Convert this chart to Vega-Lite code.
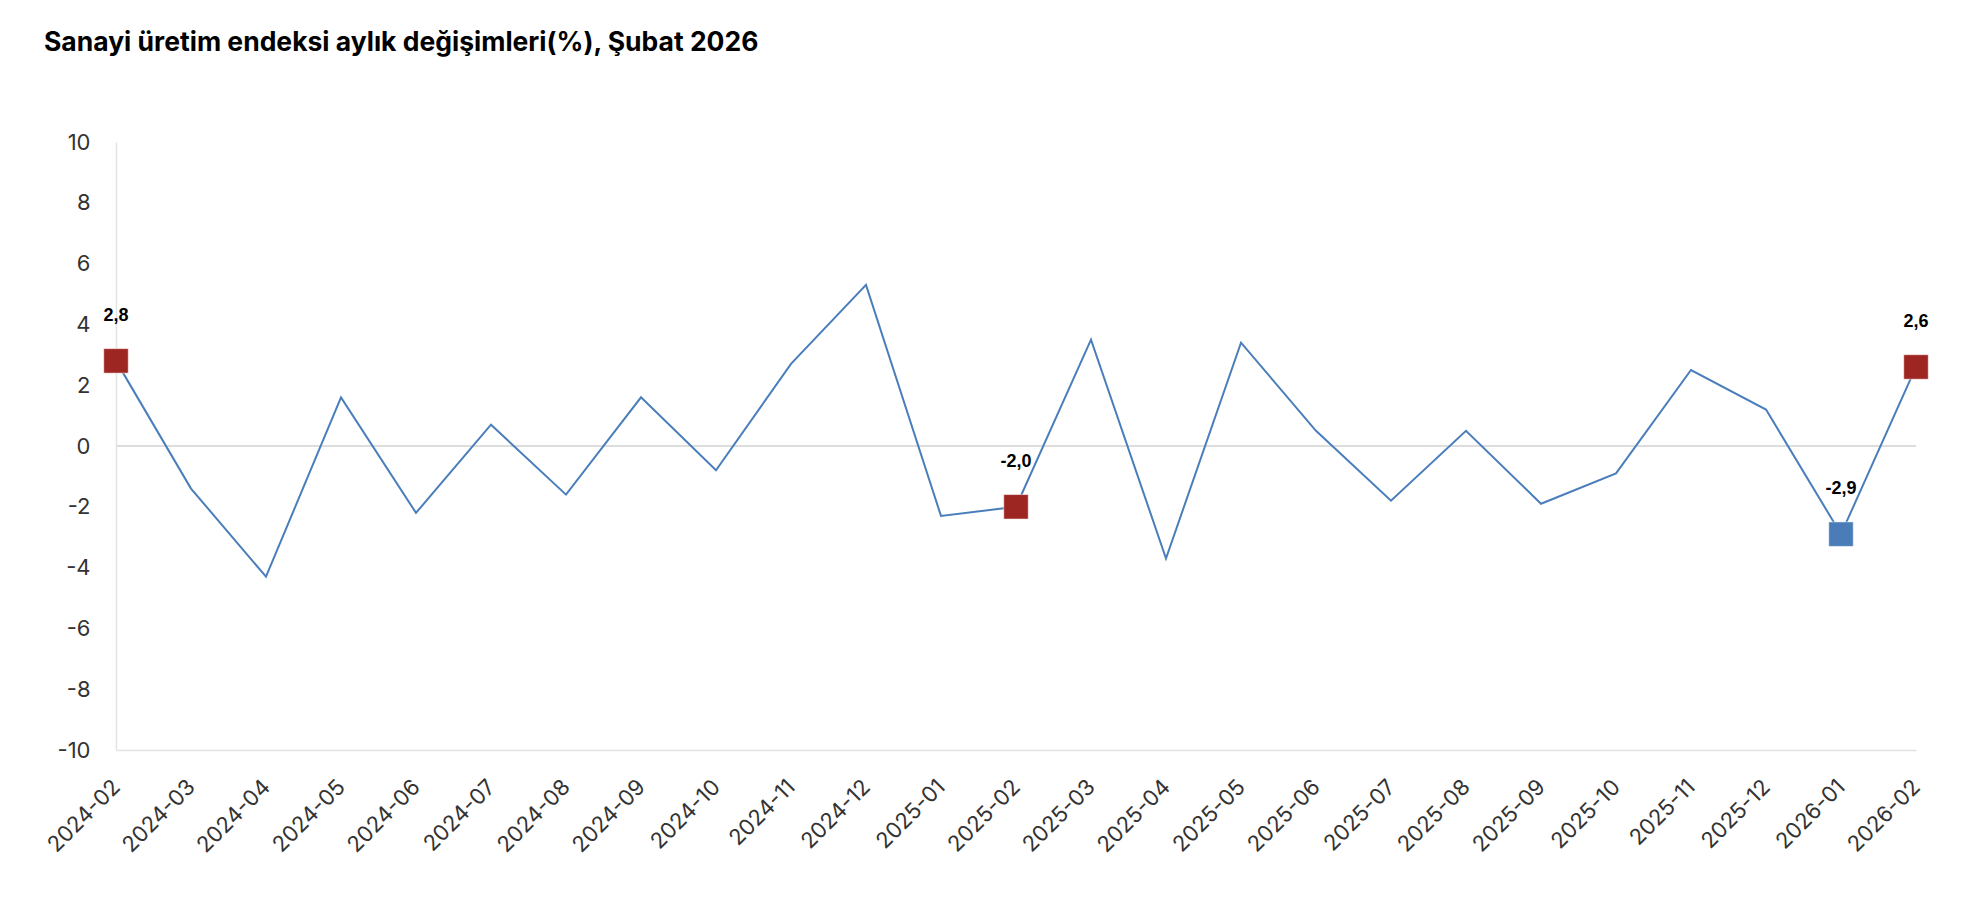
{
  "$schema": "https://vega.github.io/schema/vega-lite/v6.json",
  "autosize": {"type": "none"},
  "width": 1800,
  "height": 608,
  "padding": {"left": 116, "top": 142, "right": 70, "bottom": 174},
  "background": "#ffffff",
  "config": {
    "view": {"stroke": null},
    "locale": {"number": {"decimal": ",", "thousands": ".", "grouping": [3], "currency": ["", ""], "minus": "-"}},
    "font": "Inter"
  },
  "title": {
    "text": "Sanayi üretim endeksi aylık değişimleri(%), Şubat 2026",
    "anchor": "start",
    "frame": "group",
    "dx": -72,
    "offset": 75,
    "font": "Inter",
    "fontSize": 26.5,
    "fontWeight": "bold",
    "color": "#000000"
  },
  "data": {
    "values": [
      {"month": "2024-02", "value": 2.8, "marker": "Şubat"},
      {"month": "2024-03", "value": -1.4},
      {"month": "2024-04", "value": -4.3},
      {"month": "2024-05", "value": 1.6},
      {"month": "2024-06", "value": -2.2},
      {"month": "2024-07", "value": 0.7},
      {"month": "2024-08", "value": -1.6},
      {"month": "2024-09", "value": 1.6},
      {"month": "2024-10", "value": -0.8},
      {"month": "2024-11", "value": 2.7},
      {"month": "2024-12", "value": 5.3},
      {"month": "2025-01", "value": -2.3},
      {"month": "2025-02", "value": -2.0, "marker": "Şubat"},
      {"month": "2025-03", "value": 3.5},
      {"month": "2025-04", "value": -3.7},
      {"month": "2025-05", "value": 3.4},
      {"month": "2025-06", "value": 0.5},
      {"month": "2025-07", "value": -1.8},
      {"month": "2025-08", "value": 0.5},
      {"month": "2025-09", "value": -1.9},
      {"month": "2025-10", "value": -0.9},
      {"month": "2025-11", "value": 2.5},
      {"month": "2025-12", "value": 1.2},
      {"month": "2026-01", "value": -2.9, "marker": "Ocak"},
      {"month": "2026-02", "value": 2.6, "marker": "Şubat"}
    ]
  },
  "encoding": {
    "x": {
      "field": "month",
      "type": "ordinal",
      "scale": {"type": "point", "padding": 0},
      "axis": {
        "title": null,
        "labelAngle": -45,
        "labelAlign": "right",
        "labelBaseline": "middle",
        "labelFont": "Inter",
        "labelFontSize": 22,
        "labelColor": "#333333",
        "labelPadding": 33,
        "ticks": false,
        "domainColor": "#e3e3e3",
        "domainWidth": 1.5,
        "grid": false
      }
    },
    "y": {
      "field": "value",
      "type": "quantitative",
      "scale": {"domain": [-10, 10], "nice": false, "zero": false},
      "axis": {
        "title": null,
        "values": [-10, -8, -6, -4, -2, 0, 2, 4, 6, 8, 10],
        "format": "d",
        "labelFont": "Inter",
        "labelFontSize": 22,
        "labelColor": "#333333",
        "labelPadding": 26,
        "ticks": false,
        "domainColor": "#e3e3e3",
        "domainWidth": 1.5,
        "grid": false
      }
    }
  },
  "layer": [
    {
      "mark": {"type": "rule", "color": "#dcdcdc", "strokeWidth": 1.5},
      "encoding": {"y": {"datum": 0}, "x": {"value": 0}, "x2": {"value": 1800}}
    },
    {
      "mark": {"type": "line", "color": "#4a7ebb", "strokeWidth": 2}
    },
    {
      "transform": [{"filter": "datum.marker != null"}],
      "mark": {"type": "point", "shape": "square", "filled": true, "size": 600, "opacity": 1, "stroke": "#ffffff", "strokeWidth": 1, "strokeOpacity": 0.5},
      "encoding": {
        "color": {
          "field": "marker",
          "type": "nominal",
          "scale": {"domain": ["Şubat", "Ocak"], "range": ["#9e2622", "#4a7db8"]},
          "legend": null
        }
      }
    },
    {
      "transform": [{"filter": "datum.marker != null"}],
      "mark": {"type": "text", "dy": -45, "font": "Liberation Sans", "fontWeight": "bold", "fontSize": 18, "color": "#000000", "baseline": "middle"},
      "encoding": {
        "text": {"field": "value", "type": "quantitative", "format": ".1f"}
      }
    }
  ]
}
